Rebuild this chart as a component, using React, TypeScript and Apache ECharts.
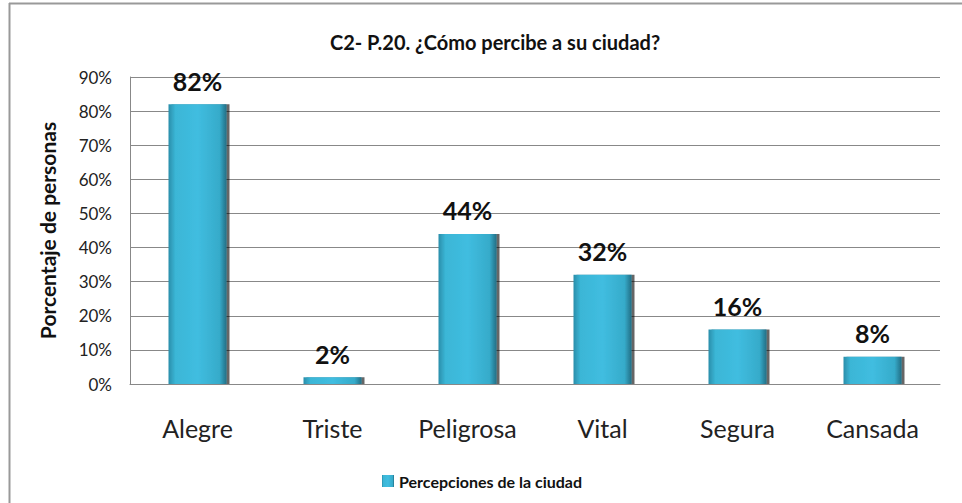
import React, { useEffect, useRef } from "react";
import * as echarts from "echarts";

const categories = ["Alegre", "Triste", "Peligrosa", "Vital", "Segura", "Cansada"];
const values = [82, 2, 44, 32, 16, 8];
const yTicks = [0, 10, 20, 30, 40, 50, 60, 70, 80, 90];
const seriesName = "Percepciones de la ciudad";
const title = "C2- P.20. ¿Cómo percibe a su ciudad?";
const yAxisName = "Porcentaje de personas";

const FONT = "Lato, 'Open Sans', sans-serif";

export default function App() {
  const ref = useRef<HTMLDivElement>(null);
  useEffect(() => {
    document.body.style.margin = "0";
    if (!ref.current) return;
    const chart = echarts.init(ref.current, null, { renderer: "svg" });
    const barColor = new echarts.graphic.LinearGradient(0, 0, 1, 0, [
      { offset: 0, color: "#2a8eaa" },
      { offset: 0.12, color: "#3bb6d6" },
      { offset: 0.5, color: "#40bde0" },
      { offset: 0.88, color: "#36abca" },
      { offset: 1, color: "#236f86" },
    ]);
    chart.setOption({
      animation: false,
      backgroundColor: "#ffffff",
      title: {
        text: title,
        left: 490,
        textAlign: "center",
        top: 27,
        textStyle: { fontFamily: FONT, fontWeight: "bold", fontSize: 20, color: "#111" },
      },
      grid: { left: 130, right: 22, top: 77, bottom: 119 },
      legend: {
        bottom: 9,
        left: 377,
        data: [seriesName],
        icon: "rect",
        itemWidth: 12,
        itemHeight: 12,
        itemGap: 4,
        textStyle: { fontFamily: FONT, fontWeight: "bold", fontSize: 16, color: "#111" },
      },
      xAxis: {
        type: "category",
        data: categories,
        axisLine: { show: true, lineStyle: { color: "#888" } },
        axisTick: { show: false },
        axisLabel: { fontFamily: FONT, fontSize: 25, color: "#222", margin: 31 },
      },
      yAxis: {
        type: "value",
        min: 0,
        max: 90,
        interval: 10,
        name: yAxisName,
        nameLocation: "middle",
        nameGap: 72,
        nameTextStyle: { fontFamily: FONT, fontWeight: "bold", fontSize: 21, color: "#111" },
        axisLine: { show: true, lineStyle: { color: "#888" } },
        axisTick: { show: false },
        splitLine: { show: true, lineStyle: { color: "#888", width: 1 } },
        axisLabel: {
          fontFamily: FONT,
          fontSize: 17,
          color: "#222",
          margin: 18,
          formatter: (v: number) => (yTicks.includes(v) ? v + "%" : ""),
        },
      },
      series: [
        {
          name: seriesName,
          type: "bar",
          data: values,
          barWidth: 58,
          itemStyle: {
            color: barColor,
            shadowColor: "rgba(0,0,0,0.6)",
            shadowOffsetX: 3,
            shadowOffsetY: 0,
            shadowBlur: 1,
          },
          label: {
            show: true,
            position: "top",
            distance: 11,
            formatter: "{c}%",
            fontFamily: FONT,
            fontWeight: "bold",
            fontSize: 25,
            color: "#111",
          },
        },
      ],
      graphic: [
        { type: "line", shape: { x1: 9.5, y1: 3, x2: 9.5, y2: 503 }, style: { stroke: "#999", lineWidth: 2 } },
        { type: "line", shape: { x1: 9, y1: 3.5, x2: 962, y2: 3.5 }, style: { stroke: "#999", lineWidth: 2 } },
      ],
    });
    return () => chart.dispose();
  }, []);
  return <div ref={ref} style={{ width: 962, height: 503 }} />;
}
